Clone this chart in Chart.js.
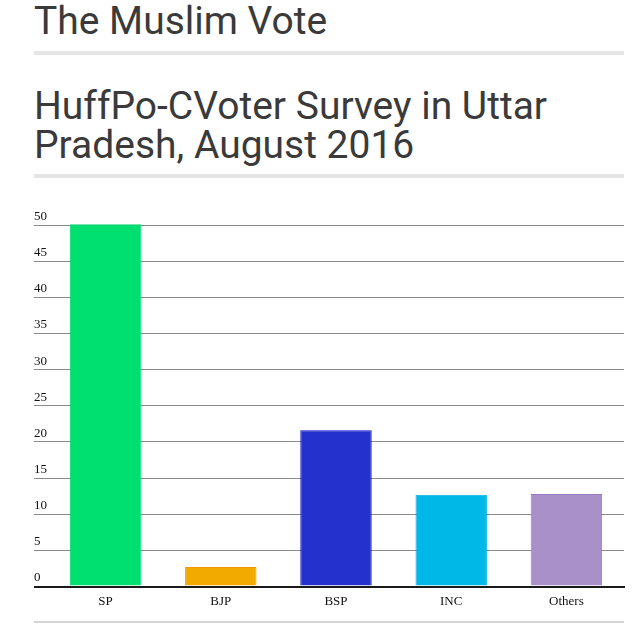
<!DOCTYPE html>
<html>
<head>
<meta charset="utf-8">
<script src="https://cdn.jsdelivr.net/npm/chart.js@4/dist/chart.umd.min.js"></script>
<style>
  body { margin: 0; background: #fff; width: 644px; height: 634px; position: relative; overflow: hidden; }
  .head { position: absolute; left: 34px; font-family: Roboto, sans-serif; font-size: 39px; color: #3a3a3a; white-space: nowrap; }
  #h1 { top: 2px; line-height: 39px; }
  #h2 { top: 86.5px; line-height: 39.5px; }
  .rule { position: absolute; left: 34px; width: 590px; height: 4px; background: #e5e5e5; }
  #chartBox { position: absolute; left: 0; top: 200px; }
  #foot { position: absolute; left: 34px; width: 590px; top: 621px; height: 2px; background: #d4d4d4; }
</style>
</head>
<body>
<div class="head" id="h1">The Muslim Vote</div>
<div class="rule" style="top:51px"></div>
<div class="head" id="h2">HuffPo-CVoter Survey in Uttar<br>Pradesh, August 2016</div>
<div class="rule" style="top:174px"></div>
<div id="chartBox"><canvas id="chartCanvas" width="644" height="410"></canvas></div>
<div id="foot"></div>
<script>
const parties = ["SP", "BJP", "BSP", "INC", "Others"];
const voteShare = [50.1, 2.7, 21.6, 12.7, 12.8];
const fillColors = ["#00e070", "#f2a900", "#2431cc", "#00b8e8", "#aa90c8"];
const edgeColors = ["#00dd6e", "#f09800", "#0a0ac8", "#00aee0", "#9b7ac0"];

const serif = "'Liberation Serif', 'Times New Roman', serif";
const ctx = document.getElementById("chartCanvas").getContext("2d");

new Chart(ctx, {
    type: "bar",
    data: {
        labels: parties,
        datasets: [{
            data: voteShare,
            backgroundColor: fillColors,
            borderColor: edgeColors,
            borderWidth: 1,
            categoryPercentage: 1,
            barPercentage: 0.62,
            clip: false
        }]
    },
    options: {
        responsive: false,
        animation: false,
        layout: { padding: { left: 34, right: 20, top: 25, bottom: 0 } },
        plugins: {
            legend: { display: false },
            tooltip: { enabled: false }
        },
        scales: {
            x: {
                z: 1,
                grid: { display: false, drawTicks: false },
                border: { display: true, color: "#1a1a1a", width: 2 },
                ticks: { color: "#111", font: { family: serif, size: 13 }, padding: 7 },
                afterFit: (scale) => { scale.height = 23.5; }
            },
            y: {
                min: 0,
                max: 50,
                border: { display: false },
                grid: {
                    color: (c) => c.tick && c.tick.value === 0 ? "#1a1a1a" : "#8a8a8a",
                    lineWidth: (c) => c.tick && c.tick.value === 0 ? 2 : 1,
                    drawTicks: true,
                    tickLength: 14
                },
                ticks: {
                    stepSize: 5,
                    autoSkip: false,
                    crossAlign: "far",
                    labelOffset: -8.5,
                    padding: 0,
                    color: "#111",
                    font: { family: serif, size: 13 }
                },
                afterFit: (scale) => { scale.width = 14; }
            }
        }
    }
});
</script>
</body>
</html>
